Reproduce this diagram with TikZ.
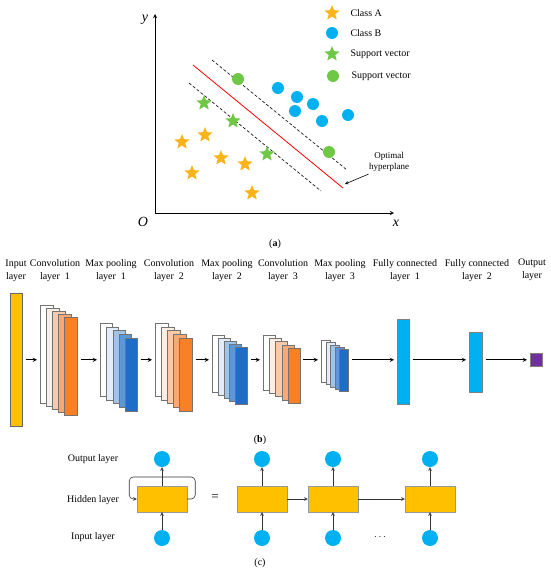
\documentclass[tikz,border=0pt]{standalone}
\usepackage{fontspec}
\setmainfont{Liberation Serif}
\usepackage{tikz}
\usetikzlibrary{shapes.geometric, positioning}
\definecolor{starA}{RGB}{250, 180, 25}
\definecolor{dotB}{RGB}{0, 176, 240}
\definecolor{support}{RGB}{110, 200, 70}
\definecolor{inyellow}{RGB}{255, 192, 0}
\definecolor{fccyan}{RGB}{0, 176, 240}
\definecolor{outpurple}{RGB}{112, 48, 160}
\definecolor{o1}{RGB}{255, 255, 255}
\definecolor{o2}{RGB}{253, 238, 228}
\definecolor{o3}{RGB}{250, 202, 168}
\definecolor{o4}{RGB}{248, 168, 112}
\definecolor{o5}{RGB}{250, 128, 40}
\definecolor{b1}{RGB}{255, 255, 255}
\definecolor{b2}{RGB}{225, 236, 248}
\definecolor{b3}{RGB}{160, 196, 232}
\definecolor{b4}{RGB}{92, 152, 216}
\definecolor{b5}{RGB}{30, 110, 200}

\begin{document}
\begin{tikzpicture}[x=1pt, y=-1pt,
  every node/.style={font=\fontsize{10}{13}\selectfont},
  starpt/.style={star, star points=5, star point ratio=2.3, inner sep=0, minimum size=16pt},
  dotpt/.style={circle, inner sep=0, minimum size=12pt},
  layer/.style={draw=black!55, line width=0.5pt, inner sep=0, anchor=north west},
  arr/.style={->, >=stealth, line width=0.9pt, shorten >=3pt, shorten <=3pt},
  unit/.style={circle, fill=dotB, inner sep=0, minimum size=16pt},
  cell/.style={draw=black!40, fill=inyellow, inner sep=0, minimum width=50pt, minimum height=26pt},
  link/.style={->, >=stealth, black!80, line width=0.6pt}]
  \useasboundingbox (0, 0) rectangle (550, 573);

  % (a)
  \coordinate (O) at (155, 213);
  \coordinate (ytop) at (155, 14);
  \coordinate (xend) at (394, 213);
  \draw [->, >=stealth, line width=0.9pt] (O) -- (ytop);
  \draw [->, >=stealth, line width=0.9pt] (O) -- (xend);
  \node[font=\fontsize{14}{14}\selectfont\itshape] (ylbl) at (145, 20) {y};
  \node[font=\fontsize{14}{14}\selectfont\itshape] (olbl) at (143, 222) {O};
  \node[font=\fontsize{14}{14}\selectfont\itshape] (xlbl) at (396, 223) {x};

  \draw [red, line width=0.8pt] (193, 65) -- (343, 188);
  \draw [dash pattern=on 3pt off 2pt, line width=0.6pt] (212, 60) -- (347, 170);
  \draw [dash pattern=on 3pt off 2pt, line width=0.6pt] (189, 83) -- (321, 191);

  \foreach \x/\y [count=\i] in {182/142, 205/135, 221/158, 245/164, 192/173, 252/193}
    \node[starpt, fill=starA] (a\i) at (\x, \y) {};
  \foreach \x/\y [count=\i] in {278/88, 297/97, 313/104, 295/111, 322/121, 348/115}
    \node[dotpt, fill=dotB] (b\i) at (\x, \y) {};
  \foreach \x/\y [count=\i] in {204/103, 233/121, 267/154}
    \node[starpt, fill=support] (sa\i) at (\x, \y) {};
  \node[dotpt, fill=support] (sb1) at (238, 79) {};
  \node[dotpt, fill=support] (sb2) at (329, 152) {};

  \node[starpt, fill=starA] (keyA) at (332, 13) {};
  \node[anchor=west] (txtA) at (347, 13) {Class A};
  \node[dotpt, fill=dotB] (keyB) at (332, 33) {};
  \node[anchor=west] (txtB) at (347, 33) {Class B};
  \node[starpt, fill=support] (keySA) at (332, 54) {};
  \node[anchor=west] (txtSA) at (347, 54) {Support vector};
  \node[dotpt, fill=support] (keySB) at (333, 76) {};
  \node[anchor=west] (txtSB) at (348, 76) {Support vector};

  \node[align=center, font=\fontsize{9}{11}\selectfont] (opt) at (389, 162) {Optimal\\hyperplane};
  \coordinate (tip) at (345, 184);
  \draw [->, >=stealth, line width=0.6pt] ([xshift=3pt, yshift=1pt]opt.south west) -- (tip);

  \node (capa) at (275, 244) {(\textbf{a})};

  % (b)
  \node[align=center] (l0) at (16, 271) {Input\\layer};
  \node[align=center] (l1) at (55, 271) {Convolution\\layer\ \ 1};
  \node[align=center] (l2) at (111, 271) {Max pooling\\layer\ \ 1};
  \node[align=center] (l3) at (169, 271) {Convolution\\layer\ \ 2};
  \node[align=center] (l4) at (227, 271) {Max pooling\\layer\ \ 2};
  \node[align=center] (l5) at (283, 271) {Convolution\\layer\ \ 3};
  \node[align=center] (l6) at (340, 271) {Max pooling\\layer\ \ 3};
  \node[align=center] (l7) at (405, 271) {Fully connected\\layer\ \ 1};
  \node[align=center] (l8) at (477, 271) {Fully connected\\layer\ \ 2};
  \node[align=center] (l9) at (532, 270) {Output\\layer};

  \node[layer, draw=black!60, fill=inyellow, minimum width=12pt, minimum height=133pt] (input) at (10, 293) {};

  \foreach \nm/\xo/\yo/\w/\h/\dx/\dy/\pal in {conv1/40/305/13/98/6/3/o, pool1/100/323/12/73/6.3/3.7/b,
      conv2/155/323/13/73/6/3.7/o, pool2/212/335/12/57/5.8/3/b,
      conv3/263/335/12/55/6.2/3.2/o, pool3/321/340/9/42/4.5/2.3/b}
    \foreach \i in {1,...,5}
      \node[layer, fill=\pal\i, minimum width=\w pt, minimum height=\h pt] (\nm-\i)
        at ({\xo+(\i-1)*\dx}, {\yo+(\i-1)*\dy}) {};

  \node[layer, draw=black!50, fill=fccyan, minimum width=12pt, minimum height=85pt] (fc1) at (397, 319) {};
  \node[layer, draw=black!50, fill=fccyan, minimum width=13pt, minimum height=60pt] (fc2) at (469, 332) {};
  \node[layer, draw=black!50, fill=outpurple, minimum width=12pt, minimum height=13pt] (output) at (530, 353) {};

  \draw[arr] (input.east) -- (input.east -| conv1-1.west);
  \draw[arr] (conv1-5.east |- input.east) -- (input.east -| pool1-1.west);
  \draw[arr] (pool1-5.east |- input.east) -- (input.east -| conv2-1.west);
  \draw[arr] (conv2-5.east |- input.east) -- (input.east -| pool2-1.west);
  \draw[arr] (pool2-5.east |- input.east) -- (input.east -| conv3-1.west);
  \draw[arr] (conv3-5.east |- input.east) -- (input.east -| pool3-1.west);
  \draw[arr] (pool3-5.east |- input.east) -- (input.east -| fc1.west);
  \draw[arr] (fc1.east |- input.east) -- (input.east -| fc2.west);
  \draw[arr] (fc2.east |- input.east) -- (input.east -| output.west);

  \node (capb) at (260, 440) {(\textbf{b})};

  % (c)
  \node (outlbl) at (93, 459) {Output layer};
  \node (hidlbl) at (93, 500) {Hidden layer};
  \node (inlbl) at (93, 537) {Input layer};

  \node[cell] (h0) at (162, 499) {};
  \node[unit] (o0) at (162, 459) {};
  \node[unit] (i0) at (162, 538) {};
  \draw[link] (i0) -- (h0);
  \draw[link] (h0) -- (o0);
  \draw[link, rounded corners=4pt] (h0.east) -- ++(8, 0) -- ++(0, -22) -- ++(-66, 0) -- ++(0, 22) -- (h0.west);

  \node[font=\fontsize{13}{13}\selectfont] (eq) at (215, 498) {=};

  \foreach \n/\x in {1/262, 2/333, 3/430} {
    \node[cell] (h\n) at (\x, 499) {};
    \node[unit] (o\n) at (\x, 459) {};
    \node[unit] (i\n) at (\x, 538) {};
    \draw[link] (i\n) -- (h\n);
    \draw[link] (h\n) -- (o\n);
  }
  \draw[link] (h1) -- (h2);
  \draw[link] (h2) -- (h3);
  \node (dots) at (380, 537) {$\cdots$};

  \node (capc) at (260, 563) {(c)};

\end{tikzpicture}
\end{document}
